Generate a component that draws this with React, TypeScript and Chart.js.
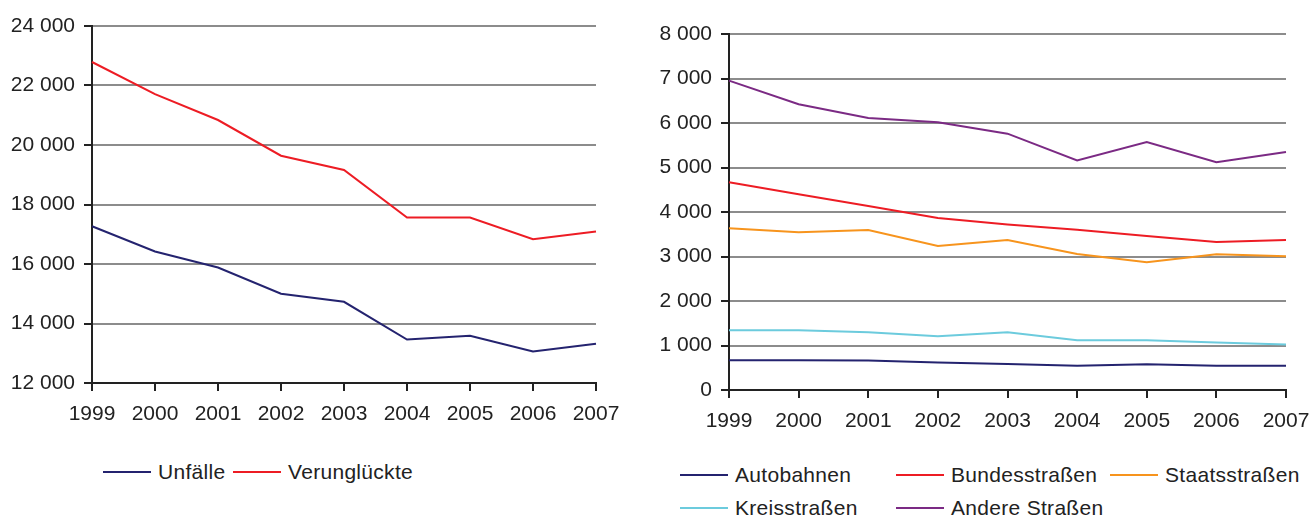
import React, { useEffect, useRef } from "react";
import { Chart, registerables } from "chart.js";

Chart.register(...registerables);

const years = ["1999", "2000", "2001", "2002", "2003", "2004", "2005", "2006", "2007"];

const unfaelle = [17270, 16420, 15880, 15000, 14730, 13460, 13590, 13060, 13320];
const verunglueckte = [22790, 21710, 20840, 19640, 19160, 17560, 17560, 16830, 17090];

const autobahnen = [667, 667, 665, 620, 585, 545, 578, 545, 545];
const bundesstrassen = [4667, 4400, 4135, 3865, 3720, 3600, 3460, 3326, 3370];
const staatsstrassen = [3633, 3544, 3595, 3236, 3370, 3056, 2870, 3050, 3004];
const kreisstrassen = [1340, 1340, 1297, 1207, 1300, 1117, 1117, 1070, 1020];
const andereStrassen = [6953, 6420, 6110, 6016, 5760, 5160, 5570, 5120, 5350];

const leftTicks = [12000, 14000, 16000, 18000, 20000, 22000, 24000];
const rightTicks = [0, 1000, 2000, 3000, 4000, 5000, 6000, 7000, 8000];

const NAVY = "#24236f";
const RED = "#ed1c24";
const ORANGE = "#f7941d";
const CYAN = "#6ccbdd";
const PURPLE = "#7b2a84";
const GRID = "#8c8c8c";
const AXIS = "#222222";
const FONT = "'Liberation Sans', Arial, sans-serif";

const fmt = (v: number) => {
  const s = String(Math.round(v));
  return s.replace(/\B(?=(\d{3})+(?!\d))/g, " ");
};

function makeOptions(min: number, max: number, step: number, yWidth: number, xHeight: number, pad: any) {
  return {
    animation: false as const,
    responsive: true,
    maintainAspectRatio: false,
    layout: { padding: pad },
    plugins: { legend: { display: false }, tooltip: { enabled: false } },
    elements: { point: { radius: 0 }, line: { tension: 0, borderWidth: 2 } },
    scales: {
      x: {
        type: "category" as const,
        offset: false,
        border: { color: AXIS, width: 2 },
        grid: { drawOnChartArea: false, drawTicks: true, tickLength: 8, tickColor: AXIS, lineWidth: 2 },
        ticks: { color: AXIS, font: { family: FONT, size: 21 }, padding: 11, maxRotation: 0, autoSkip: false },
        afterFit: (s: any) => { s.height = xHeight; s.paddingLeft = 0; s.paddingRight = 0; },
      },
      y: {
        min, max,
        border: { color: AXIS, width: 2 },
        grid: { color: GRID, lineWidth: 2, drawTicks: true, tickLength: 8, tickColor: AXIS },
        ticks: { stepSize: step, color: AXIS, font: { family: FONT, size: 21 }, padding: 9, callback: (v: any) => fmt(Number(v)) },
        afterFit: (s: any) => { s.width = yWidth; },
      },
    },
  };
}

function LineChart(props: { datasets: any[]; options: any; style: React.CSSProperties }) {
  const ref = useRef<HTMLCanvasElement>(null);
  useEffect(() => {
    const chart = new Chart(ref.current as HTMLCanvasElement, {
      type: "line",
      data: { labels: years, datasets: props.datasets },
      options: props.options,
    });
    return () => chart.destroy();
  }, []);
  return (
    <div style={{ position: "absolute", ...props.style }}>
      <canvas ref={ref} />
    </div>
  );
}

function LegendItem(p: { x: number; y: number; color: string; label: string }) {
  return (
    <div style={{ position: "absolute", left: p.x, top: p.y - 14, height: 28, display: "flex", alignItems: "center", whiteSpace: "nowrap" }}>
      <div style={{ width: 48, height: 2, background: p.color }} />
      <span style={{ marginLeft: 7, fontFamily: FONT, fontSize: 21, color: AXIS, letterSpacing: 0.3 }}>{p.label}</span>
    </div>
  );
}

export default function App() {
  const ds = (label: string, data: number[], color: string) => ({
    label, data, borderColor: color, backgroundColor: color, borderWidth: 2, pointRadius: 0, fill: false,
  });
  const leftOpts = makeOptions(leftTicks[0], leftTicks[leftTicks.length - 1], 2000, 92, 57, { top: 26, right: 44, left: 0, bottom: 0 });
  const rightOpts = makeOptions(rightTicks[0], rightTicks[rightTicks.length - 1], 1000, 89, 50, { top: 34, right: 25, left: 0, bottom: 0 });
  return (
    <div style={{ position: "fixed", left: 0, top: 0, width: 1311, height: 517, background: "#fff", overflow: "hidden" }}>
      <LineChart
        style={{ left: 0, top: 0, width: 640, height: 440 }}
        options={leftOpts}
        datasets={[ds("Unfälle", unfaelle, NAVY), ds("Verunglückte", verunglueckte, RED)]}
      />
      <LineChart
        style={{ left: 640, top: 0, width: 671, height: 440 }}
        options={rightOpts}
        datasets={[
          ds("Autobahnen", autobahnen, NAVY),
          ds("Bundesstraßen", bundesstrassen, RED),
          ds("Staatsstraßen", staatsstrassen, ORANGE),
          ds("Kreisstraßen", kreisstrassen, CYAN),
          ds("Andere Straßen", andereStrassen, PURPLE),
        ]}
      />
      <LegendItem x={103} y={472} color={NAVY} label="Unfälle" />
      <LegendItem x={233} y={472} color={RED} label="Verunglückte" />
      <LegendItem x={680} y={475} color={NAVY} label="Autobahnen" />
      <LegendItem x={896} y={475} color={RED} label="Bundesstraßen" />
      <LegendItem x={1110} y={475} color={ORANGE} label="Staatsstraßen" />
      <LegendItem x={680} y={508} color={CYAN} label="Kreisstraßen" />
      <LegendItem x={896} y={508} color={PURPLE} label="Andere Straßen" />
    </div>
  );
}
